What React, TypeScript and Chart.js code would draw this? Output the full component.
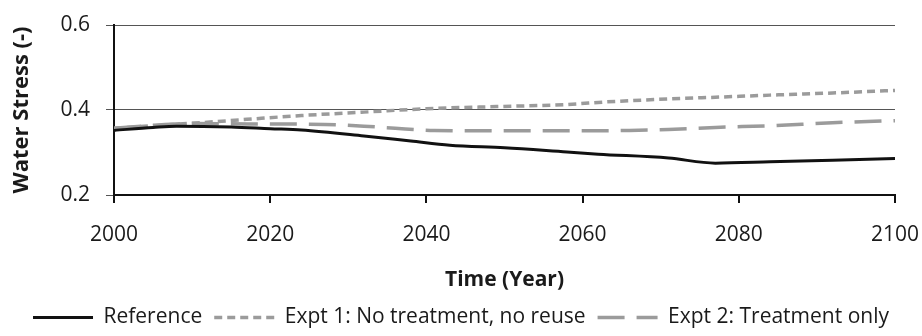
import React, { useEffect, useRef } from "react";
import { Chart, registerables } from "chart.js";

Chart.register(...registerables);

// ---- Data ----
const refYears = [2000, 2005, 2008, 2015, 2020, 2024, 2032, 2038, 2043, 2050, 2058, 2062, 2071, 2077, 2084, 2092, 2100];
const refValues = [0.352, 0.359, 0.362, 0.360, 0.356, 0.353, 0.339, 0.327, 0.317, 0.311, 0.301, 0.296, 0.287, 0.275, 0.278, 0.282, 0.286];

const expt1Years = [2000, 2005, 2011, 2017, 2024, 2032, 2040, 2049, 2058, 2063, 2071, 2077, 2084, 2092, 2100];
const expt1Values = [0.357, 0.363, 0.370, 0.378, 0.387, 0.395, 0.403, 0.408, 0.413, 0.419, 0.426, 0.430, 0.435, 0.440, 0.446];

const expt2Years = [2000, 2005, 2010, 2020, 2027, 2032, 2036, 2041, 2050, 2060, 2066, 2071, 2077, 2084, 2092, 2100];
const expt2Values = [0.357, 0.364, 0.368, 0.367, 0.366, 0.362, 0.357, 0.352, 0.351, 0.351, 0.352, 0.354, 0.359, 0.363, 0.370, 0.375];

const seriesLabels = ["Reference", "Expt 1: No treatment, no reuse", "Expt 2: Treatment only"];
const xTitle = "Time (Year)";
const yTitle = "Water Stress (-)";
const xMin = 2000, xMax = 2100, xStep = 20;
const yMin = 0.2, yMax = 0.6, yStep = 0.2;

const FONT = "'Open Sans', 'Noto Sans', sans-serif";
const TEXT = "#1a1a1a";
const GRAY = "#9b9b9b";

const toPoints = (xs: number[], ys: number[]) => xs.map((x, i) => ({ x, y: ys[i] }));

export default function App() {
  const canvasRef = useRef<HTMLCanvasElement | null>(null);

  useEffect(() => {
    const canvas = canvasRef.current;
    if (!canvas) return;
    const chart = new Chart(canvas, {
      type: "line",
      data: {
        datasets: [
          {
            label: seriesLabels[0],
            data: toPoints(refYears, refValues),
            borderColor: "#111111",
            backgroundColor: "#111111",
            borderWidth: 3,
            pointRadius: 0,
            cubicInterpolationMode: "monotone",
          },
          {
            label: seriesLabels[1],
            data: toPoints(expt1Years, expt1Values),
            borderColor: GRAY,
            backgroundColor: GRAY,
            borderWidth: 3.5,
            borderDash: [8, 5],
            pointRadius: 0,
            cubicInterpolationMode: "monotone",
          },
          {
            label: seriesLabels[2],
            data: toPoints(expt2Years, expt2Values),
            borderColor: GRAY,
            backgroundColor: GRAY,
            borderWidth: 3.5,
            borderDash: [27, 12],
            pointRadius: 0,
            cubicInterpolationMode: "monotone",
          },
        ],
      },
      options: {
        responsive: false,
        animation: false,
        layout: { padding: { top: 25, right: 0, bottom: -2, left: 0 } },
        plugins: {
          tooltip: { enabled: false },
          legend: {
            position: "bottom",
            labels: {
              usePointStyle: true,
              pointStyle: "line",
              pointStyleWidth: 60,
              padding: 12,
              color: TEXT,
              font: { family: FONT, size: 21 },
              generateLabels: (ch: any) =>
                ch.data.datasets.map((ds: any, i: number) => ({
                  text: ds.label,
                  datasetIndex: i,
                  fillStyle: ds.borderColor,
                  strokeStyle: ds.borderColor,
                  lineWidth: ds.borderWidth,
                  lineDash: ds.borderDash || [],
                  lineCap: "butt",
                  pointStyle: "line",
                  fontColor: TEXT,
                  hidden: false,
                })),
            },
          },
        },
        scales: {
          x: {
            type: "linear",
            min: xMin,
            max: xMax,
            afterFit: (scale: any) => {
              scale.height = 100;
              scale.paddingRight = 27;
              scale.paddingLeft = 0;
            },
            ticks: {
              stepSize: xStep,
              padding: 19,
              color: TEXT,
              font: { family: FONT, size: 21 },
              maxRotation: 0,
              callback: (v: any) => String(v),
            },
            grid: {
              drawOnChartArea: false,
              drawTicks: true,
              tickLength: 8,
              color: "#111111",
              lineWidth: 2,
            },
            border: { display: true, color: "#111111", width: 2 },
            title: {
              display: true,
              text: xTitle,
              color: TEXT,
              font: { family: FONT, size: 21, weight: "bold" },
              padding: { top: 0, bottom: 2 },
            },
          },
          y: {
            type: "linear",
            min: yMin,
            max: yMax,
            afterFit: (scale: any) => {
              scale.width = 114;
              scale.paddingTop = 0;
              scale.paddingBottom = 0;
            },
            ticks: {
              stepSize: yStep,
              padding: 16,
              color: TEXT,
              font: { family: FONT, size: 21 },
              callback: (v: any) => Number(v).toFixed(1),
            },
            grid: {
              color: "#555555",
              lineWidth: 1,
              tickLength: 8,
              tickColor: "#555555",
            },
            border: { display: true, color: "#111111", width: 2 },
            title: {
              display: true,
              text: yTitle,
              color: TEXT,
              font: { family: FONT, size: 22, weight: "bold" },
              padding: { top: 9, bottom: 0 },
            },
          },
        },
      },
    } as any);
    return () => chart.destroy();
  }, []);

  return (
    <div style={{ position: "absolute", left: 0, top: 0, width: 922, height: 336, background: "#fff" }}>
      <canvas ref={canvasRef} width={922} height={336} style={{ display: "block" }} />
    </div>
  );
}
